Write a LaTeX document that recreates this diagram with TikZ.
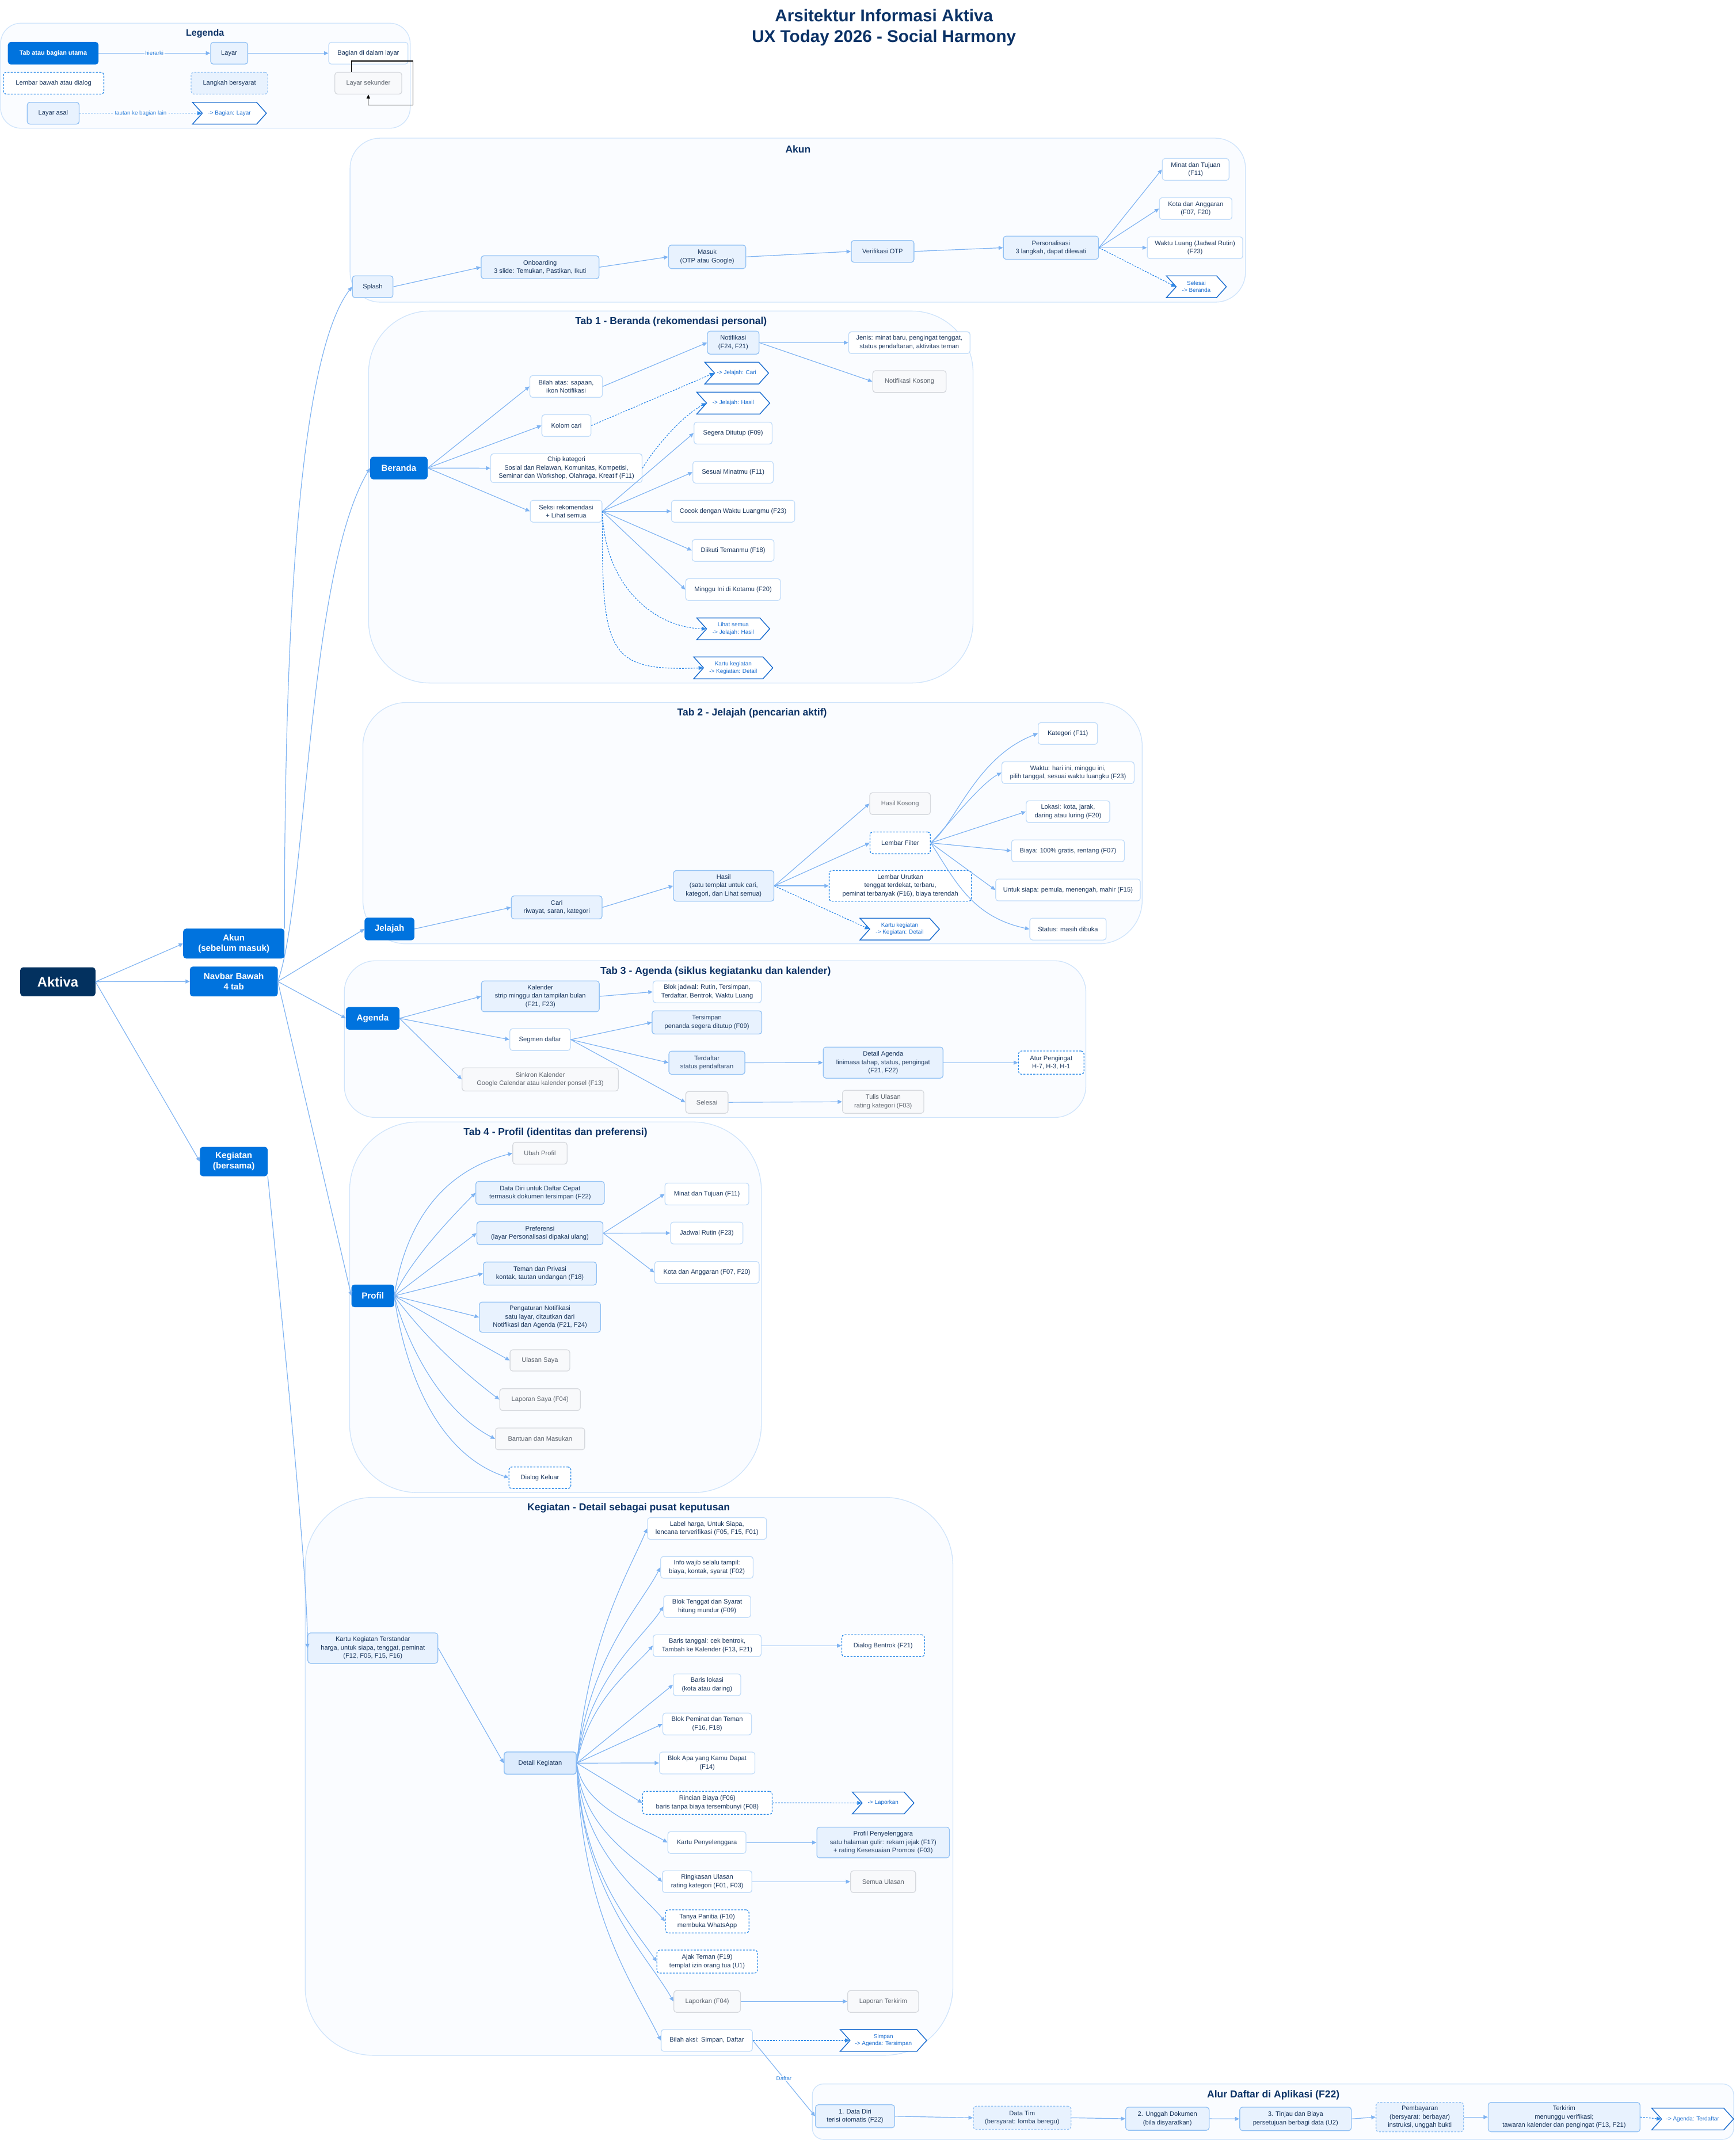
\documentclass[tikz,border=0pt]{standalone}
\usepackage{fontspec}
\setmainfont{Liberation Sans}
\usetikzlibrary{arrows.meta,shapes.symbols}
\definecolor{titlec}{HTML}{0B3266}
\definecolor{aktc}{HTML}{03315F}
\definecolor{tabc}{HTML}{0073DE}
\definecolor{txt}{HTML}{1A365D}
\definecolor{scrfill}{HTML}{E8F2FE}
\definecolor{scrline}{HTML}{93C2F4}
\definecolor{secline}{HTML}{C3DDF9}
\definecolor{sekfill}{HTML}{F8F9FB}
\definecolor{sekline}{HTML}{D6D9DE}
\definecolor{sektxt}{HTML}{5F6670}
\definecolor{dlgline}{HTML}{2A8AE8}
\definecolor{lnkline}{HTML}{1A6DD0}
\definecolor{clfill}{HTML}{FAFCFF}
\definecolor{clline}{HTML}{CFE4FB}
\definecolor{edc}{HTML}{7EB3F2}
\definecolor{dedc}{HTML}{2E89E8}
\definecolor{lblc}{HTML}{2B7FDB}
\definecolor{detfill}{HTML}{DCEBFD}
\newcommand\fnode{\fontsize{4.7pt}{6.1pt}\selectfont}
\newcommand\flink{\fontsize{4.2pt}{5.2pt}\selectfont}
\newcommand\ftabf{\fontsize{6.4pt}{7.6pt}\selectfont\bfseries}
\newcommand\fsect{\fontsize{7.4pt}{8.5pt}\selectfont\bfseries}
\newcommand\flbl{\fontsize{4.1pt}{5pt}\selectfont}
\newcommand\fmain{\fontsize{12.5pt}{15.2pt}\selectfont\bfseries}
\begin{document}
\begin{tikzpicture}[x=1pt,y=-1pt,
  nbox/.style={rounded corners=2pt, align=center, inner sep=0.8pt, font=\fnode, text=txt, minimum height=16pt, line width=0.55pt},
  ntab/.style={nbox, fill=tabc, draw=tabc, text=white, font=\ftabf},
  nscr/.style={nbox, fill=scrfill, draw=scrline},
  nsec/.style={nbox, fill=white, draw=secline},
  nsek/.style={nbox, fill=sekfill, draw=sekline, text=sektxt},
  ndlg/.style={nbox, fill=white, draw=dlgline, dash pattern=on 1.4pt off 1pt},
  ncnd/.style={nbox, fill=scrfill, draw=scrline, dash pattern=on 1.4pt off 1pt},
  nlnk/.style={signal, signal from=west, signal to=east, signal pointer angle=96, draw=lnkline, fill=white, text=lnkline, font=\flink, align=center, minimum height=16pt, inner sep=0.5pt, line width=0.6pt},
  nclu/.style={fill=clfill, draw=clline, line width=0.55pt},
  ntit/.style={font=\fsect, text=titlec, inner sep=0pt},
  eda/.style={draw=edc, line width=0.5pt, -{Triangle[length=3.2pt,width=2.9pt]}},
  edd/.style={draw=dedc, line width=0.5pt, dash pattern=on 1.2pt off 0.9pt, -{Triangle[length=3.2pt,width=2.9pt]}},
  elab/.style={font=\flbl, text=lblc, fill=white, fill opacity=0.85, text opacity=1, inner sep=0.6pt},
]
\useasboundingbox (0,0) rectangle (1272.2,1568.8);
\fill[white] (0,0) rectangle (1272.2,1568.8);

% ---------- clusters ----------
\path[nclu, rounded corners=15pt] (0.4,17) rectangle (300.7,94);
\path[nclu, rounded corners=22pt] (256.6,101.3) rectangle (913,221.5);
\path[nclu, rounded corners=45pt] (270.2,228) rectangle (713.3,500.7);
\path[nclu, rounded corners=32pt] (266,515) rectangle (837.3,691.9);
\path[nclu, rounded corners=23pt] (252.4,704.3) rectangle (796,819.2);
\path[nclu, rounded corners=50pt] (256.3,822.5) rectangle (558.1,1094.2);
\path[nclu, rounded corners=50pt] (223.7,1097.7) rectangle (698.5,1506.7);
\path[nclu, rounded corners=8pt] (595.5,1527.7) rectangle (1270.9,1568.3);

% ---------- titles ----------
\node[font=\fmain, text=titlec, align=center] (maintitle) at (648,20) {Arsitektur Informasi Aktiva\\UX Today 2026 - Social Harmony};
\node[ntit, font=\fontsize{6.8pt}{8pt}\selectfont\bfseries] (tleg) at (150.3,24.6) {Legenda};
\node[ntit] (takun) at (585,109.4) {Akun};
\node[ntit] (ttab1) at (491.9,235.7) {Tab 1 - Beranda (rekomendasi personal)};
\node[ntit] (ttab2) at (551.3,522.9) {Tab 2 - Jelajah (pencarian aktif)};
\node[ntit] (ttab3) at (524.6,712.4) {Tab 3 - Agenda (siklus kegiatanku dan kalender)};
\node[ntit] (ttab4) at (407.2,830.5) {Tab 4 - Profil (identitas dan preferensi)};
\node[ntit] (tkeg) at (460.8,1105.5) {Kegiatan - Detail sebagai pusat keputusan};
\node[ntit] (talur) at (933.4,1535.9) {Alur Daftar di Aplikasi (F22)};

% ---------- legend ----------
\node[ntab, font=\fontsize{4.6pt}{5.6pt}\selectfont\bfseries, minimum width=65.9pt] (L1) at (39,39) {Tab atau bagian utama};
\node[nscr, minimum width=27.2pt] (L2) at (168,39) {Layar};
\node[nsec, minimum width=58.1pt] (L3) at (270,39) {Bagian di dalam layar};
\node[ndlg, minimum width=73.6pt] (L4) at (39.3,61) {Lembar bawah atau dialog};
\node[ncnd, minimum width=56.2pt] (L5) at (168.2,61) {Langkah bersyarat};
\node[nsek, minimum width=49.1pt] (L6) at (270,61) {Layar sekunder};
\node[nscr, minimum width=38.1pt] (L7) at (39,83) {Layar asal};
\node[nlnk, minimum width=54.2pt] (L8) at (168.2,83) {-> Bagian: Layar};
\draw[eda] (L1.east) -- node[elab]{hierarki} (L2.west);
\draw[eda] (L2.east) -- (L3.west);
\draw[edd] (L7.east) -- node[elab]{tautan ke bagian lain} (L8.west);
\coordinate (lpA) at (302.7,44.7);
\coordinate (lpB) at (302.7,77);
\draw[black, line width=0.5pt, -{Triangle[length=3pt,width=2.6pt]}] ([xshift=-12.3pt]L6.north) |- (lpA) -- (lpB) -| (L6.south);

% ---------- main ----------
\node[nbox, fill=aktc, draw=aktc, text=white, font=\fontsize{10pt}{12pt}\selectfont\bfseries, minimum width=54.6pt, minimum height=20.7pt] (aktiva) at (42.4,719.7) {Aktiva};
\node[ntab, minimum width=73.7pt, minimum height=21.4pt] (akun) at (171.4,691.7) {Akun\\(sebelum masuk)};
\node[ntab, minimum width=63.9pt, minimum height=21.3pt] (navbar) at (171.4,719.5) {Navbar Bawah\\4 tab};
\node[ntab, minimum width=49.2pt, minimum height=21pt] (kegb) at (171.4,851.5) {Kegiatan\\(bersama)};

% ---------- Akun ----------
\node[nscr, minimum width=29.8pt] (splash) at (273.2,210.2) {Splash};
\node[nscr, minimum width=86.4pt, minimum height=16.8pt] (onb) at (395.9,195.9) {Onboarding\\3 slide: Temukan, Pastikan, Ikuti};
\node[nscr, minimum width=56.6pt, minimum height=17.2pt] (masuk) at (518.4,188.3) {Masuk\\(OTP atau Google)};
\node[nscr, minimum width=46pt] (otp) at (647,184.3) {Verifikasi OTP};
\node[nscr, minimum width=69.8pt, minimum height=17pt] (pers) at (770.4,181.6) {Personalisasi\\3 langkah, dapat dilewati};
\node[nsec, minimum width=49pt] (pminat) at (876.5,124.2) {Minat dan Tujuan\\(F11)};
\node[nsec, minimum width=53.2pt] (pkota) at (876.5,152.9) {Kota dan Anggaran\\(F07, F20)};
\node[nsec, minimum width=70pt] (pwaktu) at (876,181.6) {Waktu Luang (Jadwal Rutin)\\(F23)};
\node[nlnk, minimum width=44pt] (pselesai) at (877,210.2) {Selesai\\-> Beranda};

% ---------- Tab 1 ----------
\node[ntab, minimum width=41.6pt] (ber) at (292.4,343.1) {Beranda};
\node[nsec, minimum width=53.2pt] (bilah) at (415,283.3) {Bilah atas: sapaan,\\ikon Notifikasi};
\node[nsec, minimum width=36pt] (kolom) at (415.2,312) {Kolom cari};
\node[nsec, minimum width=111pt, minimum height=21.2pt] (chip) at (415.2,343.2) {Chip kategori\\Sosial dan Relawan, Komunitas, Kompetisi,\\Seminar dan Workshop, Olahraga, Kreatif (F11)};
\node[nsec, minimum width=52.6pt] (seksi) at (415,374.8) {Seksi rekomendasi\\+ Lihat semua};
\node[nscr, minimum width=37.8pt, minimum height=16.9pt] (notif) at (537.5,251.2) {Notifikasi\\(F24, F21)};
\node[nsec, minimum width=89pt] (jenis) at (666.6,251.2) {Jenis: minat baru, pengingat tenggat,\\status pendaftaran, aktivitas teman};
\node[nsek, minimum width=53.8pt] (nkosong) at (666.7,279.7) {Notifikasi Kosong};
\node[nlnk, minimum width=46.8pt] (lcari) at (540,273.5) {-> Jelajah: Cari};
\node[nlnk, minimum width=53.5pt] (lhasil) at (537.5,295.5) {-> Jelajah: Hasil};
\node[nsec, minimum width=57.3pt] (segera) at (537.4,317.5) {Segera Ditutup (F09)};
\node[nsec, minimum width=59pt] (sesuai) at (537.4,346.2) {Sesuai Minatmu (F11)};
\node[nsec, minimum width=90.4pt] (cocok) at (537.4,374.8) {Cocok dengan Waktu Luangmu (F23)};
\node[nsec, minimum width=60pt] (diikuti) at (537.4,403.5) {Diikuti Temanmu (F18)};
\node[nsec, minimum width=69.5pt] (minggu) at (537.4,432.2) {Minggu Ini di Kotamu (F20)};
\node[nlnk, minimum width=53.5pt] (llihat) at (537.5,461) {Lihat semua\\-> Jelajah: Hasil};
\node[nlnk, minimum width=58pt] (lkartua) at (537.5,489.6) {Kartu kegiatan\\-> Kegiatan: Detail};

% ---------- Tab 2 ----------
\node[ntab, minimum width=36pt] (jel) at (285.5,681) {Jelajah};
\node[nscr, minimum width=66.5pt, minimum height=16.9pt] (cari) at (408.1,665.2) {Cari\\riwayat, saran, kategori};
\node[nscr, minimum width=73.6pt, minimum height=22.5pt] (hasil) at (530.5,649.4) {Hasil\\(satu templat untuk cari,\\kategori, dan Lihat semua)};
\node[nsek, minimum width=44.5pt] (hkosong) at (659.8,589.1) {Hasil Kosong};
\node[ndlg, minimum width=44.2pt] (filter) at (659.9,617.9) {Lembar Filter};
\node[ndlg, minimum width=104.3pt, minimum height=22.5pt] (urut) at (660,649.4) {Lembar Urutkan\\tenggat terdekat, terbaru,\\peminat terbanyak (F16), biaya terendah};
\node[nlnk, minimum width=58.3pt] (lkartub) at (659.5,681.1) {Kartu kegiatan\\-> Kegiatan: Detail};
\node[nsec, minimum width=43.5pt] (fkat) at (782.8,537.7) {Kategori (F11)};
\node[nsec, minimum width=97pt] (fwaktu) at (782.9,566.4) {Waktu: hari ini, minggu ini,\\pilih tanggal, sesuai waktu luangku (F23)};
\node[nsec, minimum width=61.3pt] (flok) at (782.9,595) {Lokasi: kota, jarak,\\daring atau luring (F20)};
\node[nsec, minimum width=82.8pt] (fbiaya) at (782.9,623.7) {Biaya: 100\% gratis, rentang (F07)};
\node[nsec, minimum width=106pt] (funtuk) at (782.9,652.4) {Untuk siapa: pemula, menengah, mahir (F15)};
\node[nsec, minimum width=56pt] (fstatus) at (782.9,681.1) {Status: masih dibuka};

% ---------- Tab 3 ----------
\node[ntab, minimum width=38.8pt] (agd) at (273.2,746.5) {Agenda};
\node[nscr, minimum width=86.4pt, minimum height=22.6pt] (kal) at (396.1,730.4) {Kalender\\strip minggu dan tampilan bulan\\(F21, F23)};
\node[nsec, minimum width=79.4pt] (blok) at (518.4,727.1) {Blok jadwal: Rutin, Tersimpan,\\Terdaftar, Bentrok, Waktu Luang};
\node[nsec, minimum width=44.4pt] (seg) at (395.9,762.1) {Segmen daftar};
\node[nsek, minimum width=114.5pt, minimum height=17pt] (sink) at (396,791.3) {Sinkron Kalender\\Google Calendar atau kalender ponsel (F13)};
\node[nscr, minimum width=80.4pt, minimum height=17pt] (tersimpan) at (518.2,749.5) {Tersimpan\\penanda segera ditutup (F09)};
\node[nscr, minimum width=55.7pt, minimum height=17pt] (terdaftar) at (518.2,779.1) {Terdaftar\\status pendaftaran};
\node[nsek, minimum width=31pt] (aselesai) at (518.2,808.1) {Selesai};
\node[nscr, minimum width=87.8pt, minimum height=22.8pt] (dagenda) at (647.4,779) {Detail Agenda\\linimasa tahap, status, pengingat\\(F21, F22)};
\node[nsek, minimum width=59.6pt, minimum height=16.9pt] (tulis) at (647.4,807.7) {Tulis Ulasan\\rating kategori (F03)};
\node[ndlg, minimum width=48pt, minimum height=17pt] (atur) at (770.6,779) {Atur Pengingat\\H-7, H-3, H-1};

% ---------- Tab 4 ----------
\node[ntab, minimum width=30.8pt] (prof) at (273.3,950) {Profil};
\node[nsek, minimum width=39.8pt] (ubah) at (395.8,845.4) {Ubah Profil};
\node[nscr, minimum width=94.2pt, minimum height=16.9pt] (ddiri) at (395.9,874.5) {Data Diri untuk Daftar Cepat\\termasuk dokumen tersimpan (F22)};
\node[nscr, minimum width=92.4pt, minimum height=16.9pt] (pref) at (395.8,904) {Preferensi\\(layar Personalisasi dipakai ulang)};
\node[nscr, minimum width=82.9pt, minimum height=16.9pt] (teman) at (395.8,933.6) {Teman dan Privasi\\kontak, tautan undangan (F18)};
\node[nscr, minimum width=88.8pt, minimum height=22.2pt] (pnotif) at (395.8,965.6) {Pengaturan Notifikasi\\satu layar, ditautkan dari\\Notifikasi dan Agenda (F21, F24)};
\node[nsek, minimum width=43.8pt, minimum height=15.6pt] (ulasan) at (395.8,997.3) {Ulasan Saya};
\node[nsek, minimum width=59.1pt] (lapsaya) at (395.9,1026) {Laporan Saya (F04)};
\node[nsek, minimum width=65.5pt] (bantuan) at (395.9,1054.8) {Bantuan dan Masukan};
\node[ndlg, minimum width=45.4pt, minimum height=15.8pt] (keluar) at (395.8,1083.3) {Dialog Keluar};
\node[nsec, minimum width=61.5pt] (prminat) at (518.2,875.3) {Minat dan Tujuan (F11)};
\node[nsec, minimum width=53pt] (prjadwal) at (518.1,903.9) {Jadwal Rutin (F23)};
\node[nsec, minimum width=76.6pt] (prkota) at (518.2,932.8) {Kota dan Anggaran (F07, F20)};

% ---------- Kegiatan ----------
\node[nscr, minimum width=95.3pt, minimum height=22.3pt] (kartu) at (273.3,1208.2) {Kartu Kegiatan Terstandar\\harga, untuk siapa, tenggat, peminat\\(F12, F05, F15, F16)};
\node[nscr, fill=detfill, draw=scrline, line width=0.7pt, minimum width=52.9pt, minimum height=16.3pt] (det) at (396,1292.5) {Detail Kegiatan};
\node[nsec, minimum width=87.3pt] (ka) at (518.3,1120.5) {Label harga, Untuk Siapa,\\lencana terverifikasi (F05, F15, F01)};
\node[nsec, minimum width=67.8pt] (kb) at (518.2,1149) {Info wajib selalu tampil:\\biaya, kontak, syarat (F02)};
\node[nsec, minimum width=63.8pt] (kc) at (518.4,1177.7) {Blok Tenggat dan Syarat\\hitung mundur (F09)};
\node[nsec, minimum width=79.2pt] (kd) at (518.4,1206.4) {Baris tanggal: cek bentrok,\\Tambah ke Kalender (F13, F21)};
\node[ndlg, minimum width=60.7pt] (bentrok) at (647.4,1206.4) {Dialog Bentrok (F21)};
\node[nsec, minimum width=49.5pt] (ke) at (518.3,1235.1) {Baris lokasi\\(kota atau daring)};
\node[nsec, minimum width=65pt] (kf) at (518.4,1263.8) {Blok Peminat dan Teman\\(F16, F18)};
\node[nsec, minimum width=70pt] (kg) at (518.4,1292.4) {Blok Apa yang Kamu Dapat\\(F14)};
\node[ndlg, minimum width=95pt, minimum height=16.9pt] (kh) at (518.5,1321.6) {Rincian Biaya (F06)\\baris tanpa biaya tersembunyi (F08)};
\node[nlnk, minimum width=45.2pt] (llapor) at (647.4,1321.7) {-> Laporkan};
\node[nsec, minimum width=57.3pt] (ki) at (518.2,1350.7) {Kartu Penyelenggara};
\node[nscr, minimum width=97.2pt, minimum height=22.5pt] (profpen) at (647.4,1350.7) {Profil Penyelenggara\\satu halaman gulir: rekam jejak (F17)\\+ rating Kesesuaian Promosi (F03)};
\node[nsec, minimum width=65.6pt] (kj) at (518.4,1379.4) {Ringkasan Ulasan\\rating kategori (F01, F03)};
\node[nsek, minimum width=47.7pt] (semua) at (647.4,1379.4) {Semua Ulasan};
\node[ndlg, minimum width=61.3pt, minimum height=16.9pt] (kk) at (518.4,1408.5) {Tanya Panitia (F10)\\membuka WhatsApp};
\node[ndlg, minimum width=73.7pt, minimum height=16.9pt] (kl) at (518.4,1438) {Ajak Teman (F19)\\templat izin orang tua (U1)};
\node[nsek, minimum width=48.9pt] (km) at (518.4,1467.2) {Laporkan (F04)};
\node[nsek, minimum width=52pt] (terkirim) at (647.4,1467.2) {Laporan Terkirim};
\node[nsec, minimum width=66.9pt] (kn) at (518.1,1495.8) {Bilah aksi: Simpan, Daftar};
\node[nlnk, minimum width=63.4pt] (lsimpan) at (647.6,1495.8) {Simpan\\-> Agenda: Tersimpan};

% ---------- Alur Daftar ----------
\node[nscr, minimum width=58pt, minimum height=16.9pt] (aa) at (626.8,1551.4) {1. Data Diri\\terisi otomatis (F22)};
\node[ncnd, minimum width=71.7pt, minimum height=16.9pt] (ab) at (749.3,1552.5) {Data Tim\\(bersyarat: lomba beregu)};
\node[nscr, minimum width=61.2pt, minimum height=16.9pt] (ac) at (855.8,1553.2) {2. Unggah Dokumen\\(bila disyaratkan)};
\node[nscr, minimum width=81.8pt, minimum height=17.2pt] (ad) at (949.7,1553.3) {3. Tinjau dan Biaya\\persetujuan berbagi data (U2)};
\node[ncnd, minimum width=64.2pt, minimum height=21.5pt] (ae) at (1040.8,1552) {Pembayaran\\(bersyarat: berbayar)\\instruksi, unggah bukti};
\node[nscr, minimum width=111.3pt, minimum height=21.5pt] (af) at (1146.6,1552) {Terkirim\\menunggu verifikasi;\\tawaran kalender dan pengingat (F13, F21)};
\node[nlnk, minimum width=60pt] (ag) at (1240.8,1553.4) {-> Agenda: Terdaftar};

% ---------- edges: main ----------
\draw[eda] (aktiva.east) -- (akun.west);
\draw[eda] (aktiva.east) -- (navbar.west);
\draw[eda] (aktiva.east) -- (kegb.west);
\draw[eda] (akun.north east) .. controls (208.5,450) and (220,260) .. (splash.west);
\draw[eda] (navbar.east) .. controls (225,660) and (225,420) .. (ber.west);
\draw[eda] (navbar.east) -- (jel.west);
\draw[eda] (navbar.east) -- (agd.west);
\draw[eda] (navbar.east) -- (prof.west);
\draw[eda] (kegb.south east) .. controls (205,950) and (225.6,1150) .. (kartu.west);

% ---------- edges: Akun ----------
\draw[eda] (splash.east) -- (onb.west);
\draw[eda] (onb.east) -- (masuk.west);
\draw[eda] (masuk.east) -- (otp.west);
\draw[eda] (otp.east) -- (pers.west);
\draw[eda] (pers.east) -- (pminat.west);
\draw[eda] (pers.east) -- (pkota.west);
\draw[eda] (pers.east) -- (pwaktu.west);
\draw[edd] (pers.east) -- (pselesai.west);

% ---------- edges: Tab 1 ----------
\draw[eda] (ber.east) -- (bilah.west);
\draw[eda] (ber.east) -- (kolom.west);
\draw[eda] (ber.east) -- (chip.west);
\draw[eda] (ber.east) -- (seksi.west);
\draw[eda] (bilah.east) -- (notif.west);
\draw[eda] (notif.east) -- (jenis.west);
\draw[eda] (notif.east) -- (nkosong.west);
\draw[edd] (kolom.east) -- (lcari.west);
\draw[edd] (chip.east) .. controls (480,328) and (500,305) .. (lhasil.west);
\draw[eda] (seksi.east) -- (segera.west);
\draw[eda] (seksi.east) -- (sesuai.west);
\draw[eda] (seksi.east) -- (cocok.west);
\draw[eda] (seksi.east) -- (diikuti.west);
\draw[eda] (seksi.east) -- (minggu.west);
\draw[edd] (seksi.east) .. controls (443,430) and (480,460) .. (llihat.west);
\draw[edd] (seksi.east) .. controls (441,480) and (445,492) .. (lkartua.west);

% ---------- edges: Tab 2 ----------
\draw[eda] (jel.east) -- (cari.west);
\draw[eda] (cari.east) -- (hasil.west);
\draw[eda] (hasil.east) -- (hkosong.west);
\draw[eda] (hasil.east) -- (filter.west);
\draw[eda] (hasil.east) -- (urut.west);
\draw[edd] (hasil.east) -- (lkartub.west);
\draw[eda] (filter.east) .. controls (700,605) and (715,555) .. (fkat.west);
\draw[eda] (filter.east) .. controls (695,605) and (718,575) .. (fwaktu.west);
\draw[eda] (filter.east) -- (flok.west);
\draw[eda] (filter.east) -- (fbiaya.west);
\draw[eda] (filter.east) -- (funtuk.west);
\draw[eda] (filter.east) .. controls (700,645) and (712,672) .. (fstatus.west);

% ---------- edges: Tab 3 ----------
\draw[eda] (agd.east) -- (kal.west);
\draw[eda] (agd.east) -- (seg.west);
\draw[eda] (agd.east) -- (sink.west);
\draw[eda] (kal.east) -- (blok.west);
\draw[eda] (seg.east) -- (tersimpan.west);
\draw[eda] (seg.east) -- (terdaftar.west);
\draw[eda] (seg.east) -- (aselesai.west);
\draw[eda] (terdaftar.east) -- (dagenda.west);
\draw[eda] (dagenda.east) -- (atur.west);
\draw[eda] (aselesai.east) -- (tulis.west);

% ---------- edges: Tab 4 ----------
\draw[eda] (prof.east) .. controls (296,905) and (318,860) .. (ubah.west);
\draw[eda] (prof.east) .. controls (300,925) and (330,893) .. (ddiri.west);
\draw[eda] (prof.east) -- (pref.west);
\draw[eda] (prof.east) -- (teman.west);
\draw[eda] (prof.east) -- (pnotif.west);
\draw[eda] (prof.east) -- (ulasan.west);
\draw[eda] (prof.east) .. controls (315,985) and (345,1010) .. (lapsaya.west);
\draw[eda] (prof.east) .. controls (300,990) and (325,1035) .. (bantuan.west);
\draw[eda] (prof.east) .. controls (296,1000) and (318,1065) .. (keluar.west);
\draw[eda] (pref.east) -- (prminat.west);
\draw[eda] (pref.east) -- (prjadwal.west);
\draw[eda] (pref.east) -- (prkota.west);

% ---------- edges: Kegiatan ----------
\draw[eda] (kartu.east) -- (det.west);
\draw[eda] (det.east) .. controls (432.4,1197.9) and (459.7,1154.9) .. (ka.west);
\draw[eda] (det.east) .. controls (432.4,1213.6) and (469.3,1177.7) .. (kb.west);
\draw[eda] (det.east) .. controls (432.4,1229.4) and (471.5,1200.7) .. (kc.west);
\draw[eda] (det.east) .. controls (432.4,1245.1) and (463.8,1223.6) .. (kd.west);
\draw[eda] (det.east) -- (ke.west);
\draw[eda] (det.east) -- (kf.west);
\draw[eda] (det.east) -- (kg.west);
\draw[eda] (det.east) -- (kh.west);
\draw[eda] (det.east) .. controls (426.4,1324.5) and (469.5,1339.1) .. (ki.west);
\draw[eda] (det.east) .. controls (426.4,1340.3) and (465.6,1362) .. (kj.west);
\draw[eda] (det.east) .. controls (426.4,1356.3) and (467.7,1385.3) .. (kk.west);
\draw[eda] (det.east) .. controls (426.4,1372.5) and (461.5,1408.9) .. (kl.west);
\draw[eda] (det.east) .. controls (426.4,1388.6) and (473.9,1432.3) .. (km.west);
\draw[eda] (det.east) .. controls (426.4,1404.3) and (464.6,1455.1) .. (kn.west);
\draw[eda] (kd.east) -- (bentrok.west);
\draw[edd] (kh.east) -- (llapor.west);
\draw[eda] (ki.east) -- (profpen.west);
\draw[eda] (kj.east) -- (semua.west);
\draw[eda] (km.east) -- (terkirim.west);
\draw[edd] (kn.east) -- (lsimpan.west);
\draw[eda] (kn.east) -- node[elab]{Daftar} (aa.west);

% ---------- edges: Alur ----------
\draw[eda] (aa.east) -- (ab.west);
\draw[eda] (ab.east) -- (ac.west);
\draw[eda] (ac.east) -- (ad.west);
\draw[eda] (ad.east) -- (ae.west);
\draw[eda] (ae.east) -- (af.west);
\draw[edd] (af.east) -- (ag.west);
\end{tikzpicture}
\end{document}
